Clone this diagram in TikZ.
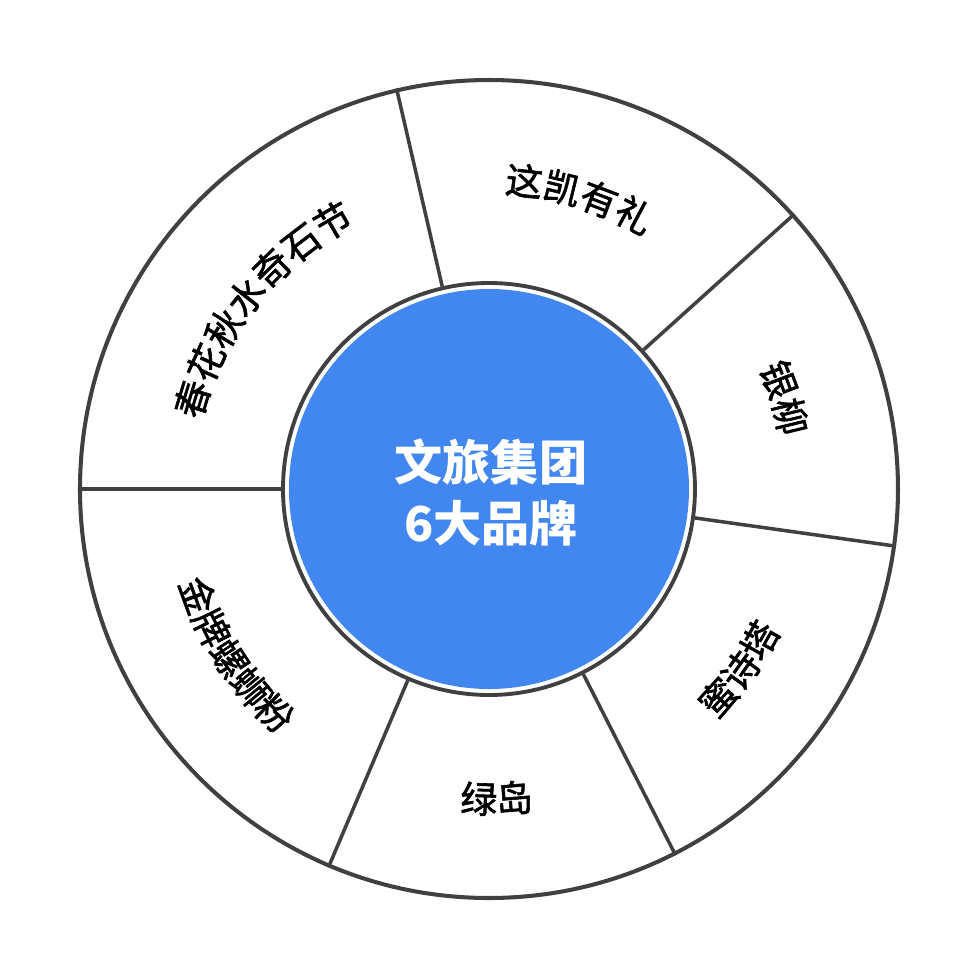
\documentclass[tikz,border=0pt]{standalone}
\usepackage{fontspec}
\setmainfont{Noto Sans CJK SC}
\newfontfamily\cjk{Noto Sans CJK SC}
\newfontfamily\cjklbl[FakeBold=1.6]{Noto Sans CJK SC}
\usetikzlibrary{decorations.text}
\definecolor{ringline}{HTML}{404040}
\definecolor{hubblue}{HTML}{4287F0}
\newcommand\lblfont{\cjklbl\fontsize{10.5pt}{12pt}\selectfont}
\begin{document}
\begin{tikzpicture}[
  sep/.style={draw=ringline, line width=1pt},
]
\useasboundingbox (-4.89,-4.91) rectangle (4.91,4.89);
\node[circle, draw=ringline, line width=1.15pt, minimum size=8.18cm, inner sep=0pt] (ring) at (0,0) {};
\node[circle, draw=ringline, line width=1.1pt, fill=white, minimum size=4.12cm, inner sep=0pt] (hub) at (0,0) {};
\node[circle, fill=hubblue, minimum size=4.0cm, inner sep=0pt] (core) at (0,0) {};
\node[text=white, font=\cjk\bfseries\fontsize{13.7pt}{17.3pt}\selectfont, align=center, inner sep=0pt] (title) at (0.02,-0.035) {文旅集团\\6大品牌};
\foreach \a in {103.3,42.2,-8,-63.5,-113.7,180}
  \draw[sep] (hub.\a) -- (ring.\a);
% clockwise arcs, tops outward
\path[decorate, decoration={text along path, text align=center, text={|\lblfont|这凯有礼}}]
  (112.75:2.96) arc[start angle=112.75, end angle=32.75, radius=2.96cm];
\path[decorate, decoration={text along path, text align=center, text={|\lblfont|银柳}}]
  (57.1:2.96) arc[start angle=57.1, end angle=-22.9, radius=2.96cm];
\path[decorate, decoration={text along path, text align=center, text={|\lblfont|春花秋水奇石节}}]
  (181.65:2.96) arc[start angle=181.65, end angle=101.65, radius=2.96cm];
% counterclockwise arcs, tops inward
\path[decorate, decoration={text along path, text align=center, text={|\lblfont|蜜诗塔}}]
  (-75.75:3.24) arc[start angle=-75.75, end angle=4.25, radius=3.24cm];
\path[decorate, decoration={text along path, text align=center, text={|\lblfont|绿岛}}]
  (-128.6:3.24) arc[start angle=-128.6, end angle=-48.6, radius=3.24cm];
\path[decorate, decoration={text along path, text align=center, text={|\lblfont|金牌螺蛳粉}}]
  (173.15:3.24) arc[start angle=173.15, end angle=253.15, radius=3.24cm];
\end{tikzpicture}
\end{document}
